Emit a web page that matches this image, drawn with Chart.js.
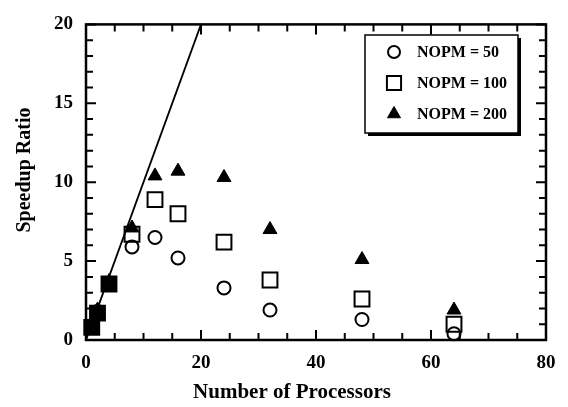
<!DOCTYPE html>
<html><head><meta charset="utf-8">
<script src="https://cdn.jsdelivr.net/npm/chart.js@4.4.1/dist/chart.umd.min.js"></script>
<style>html,body{margin:0;padding:0;background:#fff}#wrap{width:568px;height:407px}</style>
</head><body><div id="wrap"><canvas id="c" width="568" height="407"></canvas></div>
<script>
const processors = [1, 2, 4, 8, 12, 16, 24, 32, 48, 64];
const nopm50  = [0.9, 1.8, 3.6, 5.9, 6.5, 5.2, 3.3, 1.9, 1.3, 0.4];
const nopm100 = [0.8, 1.7, 3.55, 6.7, 8.9, 8.0, 6.2, 3.8, 2.6, 1.0];
const nopm200 = [1.0, 1.9, 3.7, 7.1, 10.4, 10.7, 10.3, 7.0, 5.1, 1.9];
const idealX = [0, 20];
const idealY = [0, 20];
const seriesLabels = ['NOPM = 50', 'NOPM = 100', 'NOPM = 200'];
const xTitle = 'Number of Processors';
const yTitle = 'Speedup Ratio';

const FONT = '"Liberation Serif", "DejaVu Serif", serif';
const pts = (xs, ys) => xs.map((v, i) => ({x: v, y: ys[i]}));
// overlapping markers at small processor counts print as solid squares
const squareFill = processors.map(p => (p <= 4 ? '#000' : 'rgba(0,0,0,0)'));

const framePlugin = {
  id: 'frame',
  afterDatasetsDraw(chart) {
    const {ctx, chartArea: a, scales: {x, y}} = chart;
    ctx.save();
    ctx.strokeStyle = '#000';
    ctx.lineWidth = 2;
    for (let v = 0; v <= 80; v += 5) {
      const px = x.getPixelForValue(v);
      const L = v % 20 === 0 ? 10 : 7;
      ctx.beginPath();
      ctx.moveTo(px, a.bottom); ctx.lineTo(px, a.bottom - L);
      ctx.moveTo(px, a.top); ctx.lineTo(px, a.top + L);
      ctx.stroke();
    }
    for (let v = 0; v <= 20; v += 1) {
      const py = y.getPixelForValue(v);
      const L = v % 5 === 0 ? 10 : 7;
      ctx.beginPath();
      ctx.moveTo(a.left, py); ctx.lineTo(a.left + L, py);
      ctx.moveTo(a.right, py); ctx.lineTo(a.right - L, py);
      ctx.stroke();
    }
    ctx.lineWidth = 2.5;
    ctx.strokeRect(a.left, a.top, a.right - a.left, a.bottom - a.top);

    // axis titles
    ctx.fillStyle = '#000';
    ctx.font = 'bold 21px ' + FONT;
    ctx.textAlign = 'center';
    ctx.textBaseline = 'middle';
    ctx.fillText(xTitle, 292, 393);
    ctx.save();
    ctx.translate(25, 170);
    ctx.rotate(-Math.PI / 2);
    ctx.font = 'bold 20px ' + FONT;
    ctx.fillText(yTitle, 0, 0);
    ctx.restore();

    // legend
    const bx = 365, by = 35, bw = 153, bh = 98;
    ctx.fillStyle = '#000';
    ctx.fillRect(bx + 3, by + 3, bw, bh);
    ctx.fillStyle = '#fff';
    ctx.fillRect(bx, by, bw, bh);
    ctx.lineWidth = 1.5;
    ctx.strokeRect(bx, by, bw, bh);
    const rows = [52, 83, 114];
    const legendFill = ['#fff', '#fff', '#000'];
    chart.data.datasets.slice(0, 3).forEach((ds, i) => {
      const opts = {
        pointStyle: ds.pointStyle, radius: i === 0 ? 6 : ds.pointRadius - 0.5, borderWidth: ds.borderWidth, rotation: 0
      };
      ctx.strokeStyle = '#000';
      ctx.fillStyle = legendFill[i];
      ctx.lineWidth = ds.borderWidth;
      Chart.helpers.drawPoint(ctx, opts, 394, rows[i]);
      ctx.fillStyle = '#000';
      ctx.font = 'bold 16px ' + FONT;
      ctx.textAlign = 'left';
      ctx.textBaseline = 'middle';
      ctx.fillText(seriesLabels[i], 417, rows[i] + 1);
    });
    ctx.restore();
  }
};

new Chart(document.getElementById('c'), {
  type: 'scatter',
  data: {
    datasets: [
      {label: seriesLabels[0], data: pts(processors, nopm50), pointStyle: 'circle', pointRadius: 6.5,
       borderColor: '#000', backgroundColor: 'rgba(0,0,0,0)', borderWidth: 2, clip: false, order: 3},
      {label: seriesLabels[1], data: pts(processors, nopm100), pointStyle: 'rect', pointRadius: 10.5,
       borderColor: '#000', backgroundColor: squareFill, borderWidth: 2, clip: false, order: 2},
      {label: seriesLabels[2], data: pts(processors, nopm200), pointStyle: 'triangle', pointRadius: 8,
       borderColor: '#000', backgroundColor: '#000', borderWidth: 1, clip: false, order: 1},
      {label: 'ideal', type: 'line', data: pts(idealX, idealY), borderColor: '#000', borderWidth: 1.8,
       pointRadius: 0, fill: false, showLine: true, order: 4}
    ]
  },
  options: {
    responsive: false,
    animation: false,
    events: [],
    layout: {padding: {top: 20, right: 22, bottom: 0, left: 0}},
    plugins: {legend: {display: false}, tooltip: {enabled: false}},
    scales: {
      x: {
        type: 'linear', min: 0, max: 80,
        ticks: {stepSize: 20, color: '#000', padding: 12, font: {family: FONT, size: 19, weight: 'bold'}},
        grid: {display: false, drawTicks: false},
        border: {display: false},
        afterFit(s) { s.height = 67; }
      },
      y: {
        type: 'linear', min: 0, max: 20,
        ticks: {stepSize: 5, color: '#000', padding: 13, font: {family: FONT, size: 19, weight: 'bold'}},
        grid: {display: false, drawTicks: false},
        border: {display: false},
        afterFit(s) { s.width = 86; }
      }
    }
  },
  plugins: [framePlugin]
});
</script></body></html>
